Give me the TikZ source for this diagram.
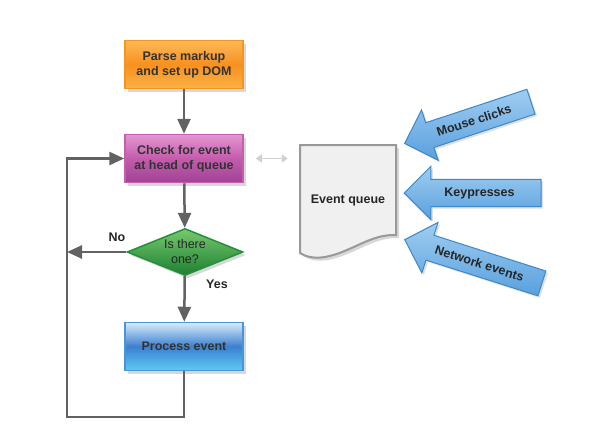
\documentclass[tikz,border=0pt]{standalone}
\usepackage{fontspec}
\setmainfont{Liberation Sans}
\usetikzlibrary{shapes.geometric,shapes.arrows,shadows,arrows.meta}
\definecolor{flowgray}{HTML}{626262}
\definecolor{parseline}{HTML}{F5951F}
\definecolor{checkline}{HTML}{C65DAE}
\definecolor{testline}{HTML}{23913A}
\definecolor{procline}{HTML}{4A95D6}
\definecolor{eventline}{HTML}{3C88C9}
\tikzset{
  box/.style={draw, line width=1.5pt, minimum width=118pt, minimum height=48pt, align=center,
    font=\bfseries\fontsize{12.5}{15}\selectfont, text=black!80,
    drop shadow={opacity=.3,shadow xshift=3pt,shadow yshift=-3pt}},
  flow/.style={draw=flowgray, line width=2.5pt, -{Triangle[length=15pt,width=13pt]}},
  label/.style={font=\bfseries\fontsize{12.5}{15}\selectfont, text=black!85},
  inarrow/.style={single arrow, draw=eventline, line width=1pt, top color={rgb,255:red,160;green,205;blue,240},
    bottom color={rgb,255:red,88;green,160;blue,222}, minimum width=53pt, single arrow head extend=13pt,
    shape border rotate=180, inner xsep=2pt, inner ysep=7.5pt, font=\bfseries\fontsize{12.5}{15}\selectfont,
    text=black!85, drop shadow={opacity=.25,shadow xshift=2pt,shadow yshift=-2pt}}
}
\begin{document}
\begin{tikzpicture}[x=1pt,y=-1pt]
\useasboundingbox [fill=white] (0,0) rectangle (591,424);

\node [box, draw=parseline, top color={rgb,255:red,253;green,186;blue,90}, bottom color={rgb,255:red,251;green,179;blue,71}, middle color={rgb,255:red,247;green,144;blue,30}] (parse) at (184,64.5) {Parse markup\\and set up DOM};
\node [box, draw=checkline, top color={rgb,255:red,228;green,150;blue,210}, bottom color={rgb,255:red,160;green,68;blue,150}, middle color={rgb,255:red,196;green,91;blue,172}] (check) at (184,158.5) {Check for event\\at head of queue};
\node [diamond, aspect=2.47, minimum width=116pt, minimum height=47pt, inner sep=0pt, draw=testline, line width=1.5pt, top color={rgb,255:red,120;green,200;blue,110}, bottom color={rgb,255:red,28;green,128;blue,48}, align=center, font=\fontsize{12.5}{15}\selectfont, text=black!85, drop shadow={opacity=.3,shadow xshift=3pt,shadow yshift=-3pt}] (test) at (185,252) {Is there\\one?};
\node [box, draw=procline, top color={rgb,255:red,215;green,236;blue,250}, bottom color={rgb,255:red,92;green,203;blue,242}, middle color={rgb,255:red,60;green,128;blue,208}] (process) at (184,346.5) {Process event};

\coordinate (loopbl) at (67,417);
\draw [flow] (parse) -- (check);
\draw [flow] (check) -- (test);
\draw [flow] (test) -- (process);
\draw [flow] (test.west) -- (loopbl |- test.west);
\draw [flow] (process.south) -- (process.south |- loopbl) -- (loopbl) -- (loopbl |- check.west) -- (check.west);
\node [label] (no) at (117,237) {No};
\node [label] (yes) at (217,284) {Yes};

% event queue sheet
\draw [draw=black!40, line width=2pt, fill=black!6, drop shadow={opacity=.3,shadow xshift=3pt,shadow yshift=-3pt}]
  (300,145) -- (396,145) -- (396,235) .. controls (370,234) and (352,252) .. (325,257) .. controls (312,259) and (305,256) .. (300,253) -- cycle;
\node [label, minimum width=96pt, minimum height=112pt] (queue) at (348,200) {Event queue};
\draw [{Triangle[length=6pt,width=8pt]}-{Triangle[length=6pt,width=8pt]}, line width=1.5pt, draw=black!18] ([xshift=12pt]check.east) -- ([xshift=-12pt]queue.west |- check.east);

\node [inarrow, rotate=18.3, minimum height=133pt] (mouse) at (474,120.5) {Mouse clicks};
\node [inarrow, minimum height=137pt] (keys) at (479.5,193) {Keypresses};
\node [inarrow, rotate=-17.7, minimum height=144pt] (network) at (479.5,263.5) {Network events};
\end{tikzpicture}
\end{document}
